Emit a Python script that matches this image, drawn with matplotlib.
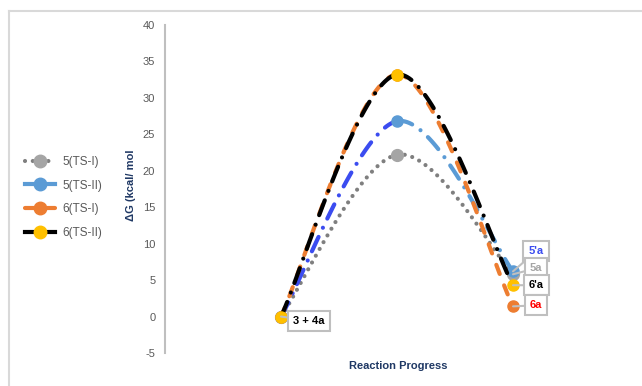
import numpy as np
import matplotlib
matplotlib.use('Agg')
import matplotlib.pyplot as plt
from matplotlib.lines import Line2D

plt.rcParams['font.family'] = ['Liberation Sans', 'DejaVu Sans']
plt.rcParams['lines.scale_dashes'] = False
plt.rcParams['axes.unicode_minus'] = False

# data
steps = [1, 2, 3]
ts1_5 = [0, 22.2, 5.8]
ts2_5 = [0, 26.8, 6.2]
ts1_6 = [0, 33.2, 1.4]
ts2_6 = [0, 33.2, 4.3]
series_names = ['5(TS-I)', '5(TS-II)', '6(TS-I)', '6(TS-II)']
end_labels = ["5'a", '5a', "6'a", '6a']
start_label = '3 + 4a'
y_ticks = [-5, 0, 5, 10, 15, 20, 25, 30, 35, 40]


def smooth(xs, ys, n=60):
    """Excel-like smoothed line (bezier through the points)"""
    p = np.column_stack([xs, ys]).astype(float)
    ext = np.vstack([p[0], p, p[-1]])
    segs = []
    for i in range(len(p) - 1):
        p0, p3 = p[i], p[i + 1]
        c1 = p0 + (ext[i + 2] - ext[i]) / 6
        c2 = p3 - (ext[i + 3] - ext[i + 1]) / 6
        t = np.linspace(0, 1, n)[:, None]
        b = ((1 - t) ** 3) * p0 + 3 * ((1 - t) ** 2) * t * c1 + 3 * (1 - t) * t ** 2 * c2 + t ** 3 * p3
        segs.append(b)
    return segs


fig = plt.figure(figsize=(6.42, 3.86), dpi=100)
ax = fig.add_axes([165 / 642, 1 - 353 / 386, (629 - 165) / 642, (353 - 25) / 386])

lw = 3
dots = dict(ls=(0, (0.01, 5.6)), dash_capstyle='round')
dashdot = dict(ls=(0, (11.4, 7.3, 0.01, 7.3)), dash_capstyle='round')
dashed = dict(ls=(0, (7, 8.8)), dash_capstyle='round')

# 5(TS-I)
for s in smooth(steps, ts1_5):
    ax.plot(s[:, 0], s[:, 1], color='#7F7F7F', lw=lw, zorder=2, **dots)
ax.plot(steps, ts1_5, ls='none', marker='o', ms=8.5, color='#A5A5A5', zorder=2.1)

# 5(TS-II) - rising part in a brighter blue
segs = smooth(steps, ts2_5)
ax.plot(segs[0][:, 0], segs[0][:, 1], color='#3B4CF0', lw=lw, zorder=3, **dashdot)
ax.plot(segs[1][:, 0], segs[1][:, 1], color='#5B9BD5', lw=lw, zorder=3, **dashdot)
ax.plot(steps, ts2_5, ls='none', marker='o', ms=8, color='#5B9BD5', zorder=3.1)

# 6(TS-I)
for s in smooth(steps, ts1_6):
    ax.plot(s[:, 0], s[:, 1], color='#ED7D31', lw=lw, zorder=4, **dashed)
ax.plot(steps, ts1_6, ls='none', marker='o', ms=8, color='#ED7D31', zorder=4.1)

# 6(TS-II)
for s in smooth(steps, ts2_6):
    ax.plot(s[:, 0], s[:, 1], color='black', lw=lw, zorder=5, **dashdot)
ax.plot(steps, ts2_6, ls='none', marker='o', ms=8, color='#FFC000', zorder=5.1)

ax.set_xlim(0, 4)
ax.set_ylim(-5, 40)
ax.set_yticks(y_ticks)
ax.set_xticks([])
ax.tick_params(axis='y', length=0, labelsize=8, labelcolor='#595959', pad=7)
for sp in ['top', 'right', 'bottom']:
    ax.spines[sp].set_visible(False)
ax.spines['left'].set_color('#BFBFBF')
ax.spines['left'].set_linewidth(1.5)
ax.patch.set_alpha(0)

# data labels
box = dict(boxstyle='square,pad=0.45', fc='white', ec='#BFBFBF', lw=1.5)
lead = dict(arrowstyle='-', color='#BFBFBF', lw=1.5, shrinkA=0, shrinkB=0)
ax.annotate(start_label, xy=(steps[0], ts2_6[0]), xytext=(28, -4), textcoords='offset pixels',
            ha='center', va='center', fontsize=8, fontweight='bold', color='black',
            bbox=box, arrowprops=lead, zorder=10)
ends = [ts2_5[2], ts1_5[2], ts2_6[2], ts1_6[2]]
offs = [(23, 20), (23, 6), (23, 0), (23, 1)]
cols = ['#3B4CF0', '#A5A5A5', 'black', '#FF0000']
for lab, yv, off, c in zip(end_labels, ends, offs, cols):
    ax.annotate(lab, xy=(steps[2], yv), xytext=off, textcoords='offset pixels',
                ha='center', va='center', fontsize=8, fontweight='bold', color=c,
                bbox=box, arrowprops=lead, zorder=10)

# axis titles
fig.text(131 / 642, 1 - 185 / 386, '\u0394G (kcal/ mol', rotation=90, ha='center', va='center',
         fontsize=8, fontweight='bold', color='#1F3864')
fig.text(398 / 642, 1 - 366 / 386, 'Reaction Progress', ha='center', va='center',
         fontsize=8, fontweight='bold', color='#1F3864')

# legend
handles = [
    Line2D([], [], color='#7F7F7F', lw=lw, marker='o', ms=9, mfc='#A5A5A5', mec='#A5A5A5', **dots),
    Line2D([], [], color='#5B9BD5', lw=lw, marker='o', ms=9, mfc='#5B9BD5', mec='#5B9BD5'),
    Line2D([], [], color='#ED7D31', lw=lw, marker='o', ms=9, mfc='#ED7D31', mec='#ED7D31', **dashed),
    Line2D([], [], color='black', lw=lw, marker='o', ms=9, mfc='#FFC000', mec='#FFC000'),
]
fig.legend(handles, series_names, loc='center left', bbox_to_anchor=(0.022, 1 - 197.5 / 386),
           frameon=False, fontsize=8.5, handlelength=2.6, handletextpad=0.6, labelspacing=1.0,
           labelcolor='#595959')

# chart border (cropped)
fig.add_artist(Line2D([9 / 642, 1], [1 - 11 / 386] * 2, color='#D9D9D9', lw=1.5))
fig.add_artist(Line2D([9 / 642] * 2, [0, 1 - 11 / 386], color='#D9D9D9', lw=1.5))

fig.savefig('out.png', dpi=100)
